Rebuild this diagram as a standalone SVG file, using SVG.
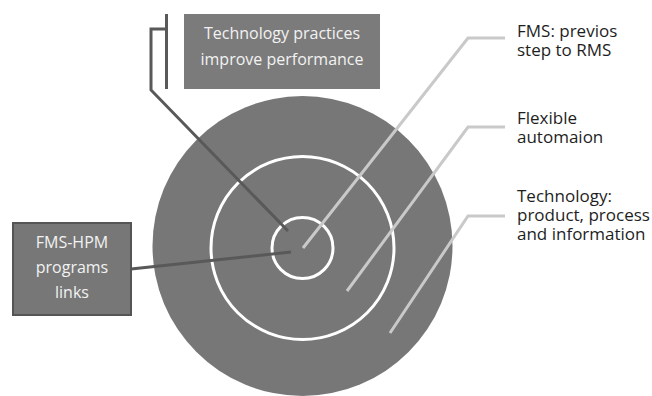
<svg xmlns="http://www.w3.org/2000/svg" width="652" height="396" viewBox="0 0 652 396">
<style>
.ring{fill:none;stroke:#ffffff;stroke-width:3}
.dark{fill:none;stroke:#595959;stroke-width:3}
.light{fill:none;stroke:#c9c9c9;stroke-width:3}
.boxtxt{font-family:"Open Sans",sans-serif;font-size:16px;fill:#f2f2f2;text-anchor:middle}
.lbl{font-family:"Open Sans",sans-serif;font-size:17px;fill:#1e1e1e}
</style>
<rect width="652" height="396" fill="#ffffff"/>
<g id="target">
<circle cx="302.5" cy="246" r="150" fill="#777777"/>
<circle class="ring" cx="302.5" cy="248" r="91.5"/>
<circle class="ring" cx="302.5" cy="248" r="30.5"/>
</g>
<g id="connectors">
<path class="dark" d="M167,29 H151 V90 L288,231"/>
<line class="dark" x1="166.5" y1="14" x2="166.5" y2="89"/>
<line class="dark" x1="131" y1="269" x2="291" y2="252"/>
<path class="light" d="M505,38 H468 L303,248"/>
<path class="light" d="M505,127 H468 L347,291"/>
<path class="light" d="M505,216 H468 L390,333"/>
</g>
<g id="node-tech-practices">
<rect x="184" y="14" width="196" height="75" fill="#7b7b7b"/>
<text class="boxtxt" x="282" y="39">Technology practices</text>
<text class="boxtxt" x="282" y="65">improve performance</text>
</g>
<g id="node-fms-hpm">
<rect x="13" y="223" width="118" height="92" fill="#777777" stroke="#555555" stroke-width="2"/>
<text class="boxtxt" x="72" y="248">FMS-HPM</text>
<text class="boxtxt" x="72" y="273">programs</text>
<text class="boxtxt" x="72" y="298">links</text>
</g>
<g id="label-fms">
<text class="lbl" x="517" y="37">FMS: previos</text>
<text class="lbl" x="517" y="56">step to RMS</text>
</g>
<g id="label-flexible">
<text class="lbl" x="517" y="124">Flexible</text>
<text class="lbl" x="517" y="143">automaion</text>
</g>
<g id="label-technology">
<text class="lbl" x="517" y="202">Technology:</text>
<text class="lbl" x="517" y="221">product, process</text>
<text class="lbl" x="517" y="240">and information</text>
</g>
</svg>
